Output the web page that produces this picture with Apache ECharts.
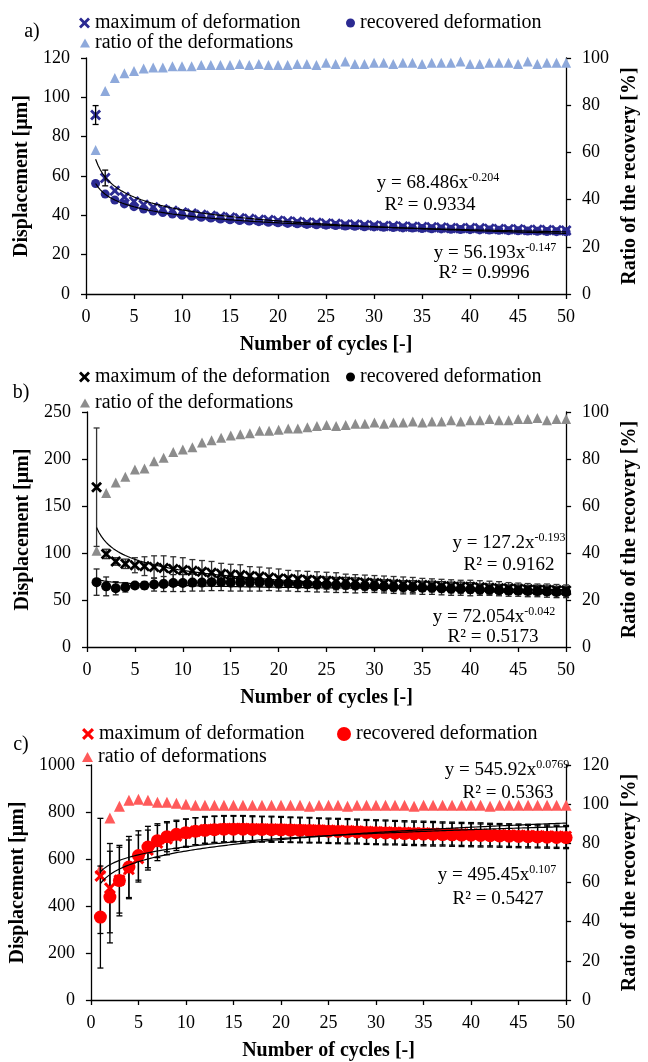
<!DOCTYPE html>
<html><head><meta charset="utf-8">
<script src="https://cdn.jsdelivr.net/npm/echarts@6/dist/echarts.min.js"></script>
<style>html,body{margin:0;padding:0;background:#fff}#c{width:648px;height:1062px}</style>
</head><body><div id="c"></div>
<script>
// ---------- data ----------
const cycles = [1,2,3,4,5,6,7,8,9,10,11,12,13,14,15,16,17,18,19,20,21,22,23,24,25,26,27,28,29,30,31,32,33,34,35,36,37,38,39,40,41,42,43,44,45,46,47,48,49,50];
const xTicks = [0,5,10,15,20,25,30,35,40,45,50];

// panel a
const aMax = [91.0,59.0,52.5,49.3,47.0,45.4,44.1,43.1,42.3,41.5, 40.9,40.3,39.8,39.3,38.9,38.5,38.2,37.8,37.6,37.3, 37.0,36.7,36.4,36.2,35.8,35.7,35.3,35.3,35.1,34.8, 34.6,34.6,34.3,34.2,34.1,33.9,33.8,33.6,33.4,33.5, 33.4,33.2,33.1,32.9,32.9,32.6,32.7,32.5,32.4,32.3];
const aMaxErr = [4.8,4.0,0,0,0,0,0,0,0,0, 0,0,0,0,0,0,0,0,0,0, 0,0,0,0,0,0,0,0,0,0, 0,0,0,0,0,0,0,0,0,0, 0,0,0,0,0,0,0,0,0,0];
const aRec = [56.2,50.8,47.8,45.8,44.4,43.2,42.2,41.4,40.7,40.0, 39.5,39.0,38.6,38.1,37.7,37.4,37.1,36.8,36.5,36.2, 35.9,35.7,35.4,35.2,35.0,34.8,34.6,34.4,34.2,34.1, 33.9,33.8,33.6,33.5,33.3,33.2,33.1,32.9,32.8,32.7, 32.6,32.5,32.4,32.2,32.1,32.0,31.9,31.8,31.7,31.6];
const aRatio = [61,86,91.5,93.5,94.5,95.5,96,96,96.5,96.5, 96.5,97,97,97,97,97.5,97,97.5,97,97, 97,97.5,97.5,97,98,97.5,98.5,97.5,97.5,98, 98,97.5,98,98,97.5,98,98,98,98.5,97.5, 97.5,98,98,98,97.5,98.5,97.5,98,98,98];
const aFitMax = [68.486, -0.204];
const aFitRec = [56.193, -0.147];
const aEqMax = ['y = 68.486x', '-0.204', 'R² = 0.9334'];
const aEqRec = ['y = 56.193x', '-0.147', 'R² = 0.9996'];
const aLeftTicks = [0,20,40,60,80,100,120];
const aRightTicks = [0,20,40,60,80,100];

// panel b
const bMax = [170,99,91,88.5,87,86,85,84,83,82, 81,80,79,78,77,76.5,75.5,75,74,73, 72.5,72,71.5,71,70.5,70,69.5,69,68.5,68, 67.5,67,66.5,66,66,65.5,65,64.5,64,64, 63.5,63,62.5,62.5,62,61.5,61,61,60.5,60];
const bMaxErr = [63,5,4,5,8,10,12,13,13,13, 12,12,12,11,11,11,10,10,10,10, 9,9,9,9,9,9,8,8,8,8, 8,8,8,8,7,7,7,7,7,7, 7,7,7,6,6,6,6,6,6,6];
const bRec = [69,64.5,62.5,63.5,65.5,65.5,66.5,67,68,68, 68.5,68.5,69,69,68.5,68.5,68.5,68.5,68,67.5, 67.5,67,67,66.5,66.5,66,66,65.5,65,65, 64.5,64,63.5,63.5,63,63,62.5,62,62,61.5, 61,61,60.5,60,60,59.5,59.5,59,58.5,58.5];
const bRecErr = [14,10,7,5,3,4,7,8,9,9, 9,9,9,9,9,9,9,9,8,8, 8,8,8,8,8,8,8,8,7,7, 7,7,7,7,7,7,7,7,7,7, 6,6,6,6,6,6,6,6,6,6];
const bRatio = [41,65.5,70,72.5,75.5,76,79,80.5,83,84, 85,87,88,89,90,90.5,91,92,92,92.5, 93,93,93.5,94,94.5,94,94.5,95,95,95.5, 95,95.5,95.5,96,95.5,96,96,96.5,96,96.5, 96.5,97,96.5,96.5,97,97,97.5,96.5,97,97];
const bFitMax = [127.2, -0.193];
const bFitRec = [72.054, -0.042];
const bEqMax = ['y = 127.2x', '-0.193', 'R² = 0.9162'];
const bEqRec = ['y = 72.054x', '-0.042', 'R² = 0.5173'];
const bLeftTicks = [0,50,100,150,200,250];
const bRightTicks = [0,20,40,60,80,100];

// panel c
const cMax = [528,476,510,556,602,638,668,686,698,710, 718,724,727,729,730,730,729,728,728,727, 726,725,724,723,722,721,720,719,717,716, 715,714,713,712,711,710,709,708,707,706, 705,704,703,702,701,700,699,698,697,696];
const cMaxErr = [245,190,140,125,100,85,75,68,62,60, 58,57,56,56,55,55,55,54,54,54, 53,53,53,52,52,52,52,51,51,51, 51,50,50,50,50,50,49,49,49,49, 49,48,48,48,48,48,48,47,47,47];
const cRec = [353,438,508,566,615,651,678,695,705,712, 718,722,725,727,727,727,726,726,725,724, 723,722,721,720,718,717,716,715,713,712, 711,710,708,707,706,705,704,703,702,701, 700,699,698,697,696,695,694,693,692,691];
const cRecErr = [217,195,150,130,105,88,72,64,60,58, 57,56,56,55,55,55,54,54,54,53, 53,53,53,52,52,52,52,51,51,51, 51,50,50,50,50,50,49,49,49,49, 49,48,48,48,48,48,47,47,47,47];
const cRatio = [67,93,99,102,102.5,102,101,101,100.5,100, 99.5,99.5,99.5,99.5,99.5,99.5,99.5,99.5,99.5,99.5, 99.5,99.5,99,99.5,99.5,99.5,99,99.5,99.5,99.5, 99.5,99.5,99.5,99,99.5,99.5,99.5,99.5,99.5,99.5, 99.5,99,99.5,99.5,99.5,99.5,99.5,99.5,99.5,99.5];
const cFitMax = [545.92, 0.0769];
const cFitRec = [495.45, 0.107];
const cEqMax = ['y = 545.92x', '0.0769', 'R² = 0.5363'];
const cEqRec = ['y = 495.45x', '0.107', 'R² = 0.5427'];
const cLeftTicks = [0,200,400,600,800,1000];
const cRightTicks = [0,20,40,60,80,100,120];

// ---------- helpers ----------
const FONT = '"Liberation Serif","Times New Roman",serif';
const XSYM = 'path://M0,1.8 L1.8,0 L5,3.2 L8.2,0 L10,1.8 L6.8,5 L10,8.2 L8.2,10 L5,6.8 L1.8,10 L0,8.2 L3.2,5 Z';
const pts = arr => cycles.map((x, i) => [x, arr[i]]);
const errPts = (arr, err) => cycles.map((x, i) => [x, arr[i], err[i]]);
const plainNum = v => String(v);
function trend(fit) {
  const out = [];
  for (let x = 1; x <= 50.0001; x += 0.25) out.push([x, fit[0] * Math.pow(x, fit[1])]);
  return out;
}
function errRender(color) {
  return function (params, api) {
    const x = api.value(0), y = api.value(1), e = api.value(2);
    if (!(e > 0)) return {type: 'group', children: []};
    const p1 = api.coord([x, y + e]), p2 = api.coord([x, y - e]);
    const st = {stroke: color, lineWidth: 1.3};
    const h = 3;
    return {type: 'group', children: [
      {type: 'line', shape: {x1: p1[0], y1: p1[1], x2: p2[0], y2: p2[1]}, style: st},
      {type: 'line', shape: {x1: p1[0] - h, y1: p1[1], x2: p1[0] + h, y2: p1[1]}, style: st},
      {type: 'line', shape: {x1: p2[0] - h, y1: p2[1], x2: p2[0] + h, y2: p2[1]}, style: st}
    ]};
  };
}
const axisLineStyle = {color: '#000', width: 1.3};
function xAx(gi) {
  return {gridIndex: gi, type: 'value', min: xTicks[0], max: xTicks[xTicks.length - 1], interval: xTicks[1] - xTicks[0],
    name: 'Number of cycles [-]', nameLocation: 'middle', nameGap: 41,
    nameTextStyle: {fontFamily: FONT, fontSize: 20, fontWeight: 'bold', color: '#000'},
    axisLine: {show: true, onZero: false, lineStyle: axisLineStyle},
    axisTick: {show: true, length: 5, lineStyle: axisLineStyle},
    axisLabel: {fontFamily: FONT, fontSize: 18, color: '#000', margin: 14, formatter: plainNum},
    splitLine: {show: false}};
}
function yLeft(gi, ticks) {
  return {gridIndex: gi, type: 'value', position: 'left', min: ticks[0], max: ticks[ticks.length - 1], interval: ticks[1] - ticks[0],
    name: 'Displacement [μm]', nameLocation: 'middle', nameRotate: 90, nameGap: 54,
    nameTextStyle: {fontFamily: FONT, fontSize: 20, fontWeight: 'bold', color: '#000'},
    axisLine: {show: true, onZero: false, lineStyle: axisLineStyle},
    axisTick: {show: true, length: 5, lineStyle: axisLineStyle},
    axisLabel: {fontFamily: FONT, fontSize: 18, color: '#000', margin: 16, formatter: plainNum},
    splitLine: {show: false}};
}
function yRight(gi, ticks) {
  return {gridIndex: gi, type: 'value', position: 'right', min: ticks[0], max: ticks[ticks.length - 1], interval: ticks[1] - ticks[0],
    name: 'Ratio of the recovery [%]', nameLocation: 'middle', nameRotate: 90, nameGap: 44,
    nameTextStyle: {fontFamily: FONT, fontSize: 20, fontWeight: 'bold', color: '#000'},
    axisLine: {show: true, onZero: false, lineStyle: axisLineStyle},
    axisTick: {show: true, length: 5, lineStyle: axisLineStyle},
    axisLabel: {fontFamily: FONT, fontSize: 18, color: '#000', margin: 16, formatter: plainNum},
    splitLine: {show: false}};
}
const strip = n => n.replace(/ \[[abc]\]$/, '');
function leg(name, left, top, w, h) {
  return {data: [name], left: left, top: top, padding: 0, itemWidth: w, itemHeight: h, itemGap: 0,
    selectedMode: false, formatter: strip,
    textStyle: {fontFamily: FONT, fontSize: 20, color: '#000'}};
}
function eqText(cx, cy, base, sup) {
  return {type: 'text', x: cx, y: cy, z: 100,
    style: {text: '{b|' + base + '}{s|' + sup + '}',
      rich: {b: {fontFamily: FONT, fontSize: 19, fill: '#000', color: '#000', lineHeight: 22},
             s: {fontFamily: FONT, fontSize: 12, fill: '#000', color: '#000', verticalAlign: 'top'}},
      align: 'center', verticalAlign: 'middle', textAlign: 'center', textVerticalAlign: 'middle'}};
}
function plainText(cx, cy, txt, size) {
  return {type: 'text', x: cx, y: cy, z: 100,
    style: {text: txt, font: size + 'px ' + FONT, fill: '#000',
      align: 'center', verticalAlign: 'middle', textAlign: 'center', textVerticalAlign: 'middle'}};
}
function scat(name, xi, yi, data, sym, size, color, z) {
  return {name: name, type: 'scatter', xAxisIndex: xi, yAxisIndex: yi, data: data, symbol: sym, symbolSize: size,
    itemStyle: {color: color, opacity: 1}, z: z, silent: true};
}
function errS(xi, yi, arr, err, color, z) {
  return {type: 'custom', xAxisIndex: xi, yAxisIndex: yi, data: errPts(arr, err), renderItem: errRender(color),
    encode: {x: 0, y: 1}, z: z, silent: true};
}
function trendS(xi, yi, fit) {
  return {type: 'line', xAxisIndex: xi, yAxisIndex: yi, data: trend(fit), showSymbol: false, symbol: 'none',
    lineStyle: {color: '#000', width: 1.2}, z: 20, silent: true};
}

// colours
const aBlue = '#2B2A92', aLight = '#8EA9DB';
const bBlack = '#000', bGrey = '#8C8C8C';
const cRed = '#FF0000', cLight = '#FF5A5A';

const chart = echarts.init(document.getElementById('c'), null, {renderer: 'canvas', width: 648, height: 1062});
chart.setOption({
  animation: false,
  backgroundColor: '#fff',
  grid: [
    {left: 86, top: 58, width: 500, height: 236},
    {left: 87, top: 412, width: 500, height: 235},
    {left: 90, top: 765, width: 498, height: 235}
  ],
  xAxis: [xAx(0), xAx(1), xAx(2)],
  yAxis: [yLeft(0, aLeftTicks), yRight(0, aRightTicks), yLeft(1, bLeftTicks), yRight(1, bRightTicks), yLeft(2, cLeftTicks), yRight(2, cRightTicks)],
  legend: [
    leg('maximum of deformation [a]', 79, 13, 11, 11),
    leg('recovered deformation [a]', 346, 13, 9, 9),
    leg('ratio of the deformations [a]', 80, 33, 10, 9),
    leg('maximum of the deformation [b]', 79, 367, 11, 11),
    leg('recovered deformation [b]', 346, 367, 9, 9),
    leg('ratio of the deformations [b]', 80, 393, 10, 9),
    leg('maximum of deformation [c]', 82, 724, 12, 12),
    leg('recovered deformation [c]', 337, 724, 14, 14),
    leg('ratio of deformations [c]', 82, 747, 11, 10)
  ],
  series: [
    // panel a
    scat('ratio of the deformations [a]', 0, 1, pts(aRatio), 'triangle', 10, aLight, 3),
    scat('recovered deformation [a]', 0, 0, pts(aRec), 'circle', 9, aBlue, 4),
    scat('maximum of deformation [a]', 0, 0, pts(aMax), XSYM, 11, aBlue, 5),
    errS(0, 0, aMax, aMaxErr, '#000', 6),
    trendS(0, 0, aFitMax), trendS(0, 0, aFitRec),
    // panel b
    scat('ratio of the deformations [b]', 1, 3, pts(bRatio), 'triangle', 10, bGrey, 3),
    errS(1, 2, bRec, bRecErr, '#222', 4),
    errS(1, 2, bMax, bMaxErr, '#333', 4),
    scat('recovered deformation [b]', 1, 2, pts(bRec), 'circle', 10, bBlack, 5),
    scat('maximum of the deformation [b]', 1, 2, pts(bMax), XSYM, 11, bBlack, 6),
    trendS(1, 2, bFitMax), trendS(1, 2, bFitRec),
    // panel c
    scat('ratio of deformations [c]', 2, 5, pts(cRatio), 'triangle', 11, cLight, 3),
    errS(2, 4, cRec, cRecErr, '#000', 4),
    errS(2, 4, cMax, cMaxErr, '#000', 4),
    scat('recovered deformation [c]', 2, 4, pts(cRec), 'circle', 13, cRed, 5),
    scat('maximum of deformation [c]', 2, 4, pts(cMax), XSYM, 12, cRed, 6),
    trendS(2, 4, cFitMax), trendS(2, 4, cFitRec)
  ],
  graphic: [
    plainText(32, 32, 'a)', 20),
    plainText(21, 393, 'b)', 20),
    plainText(21, 745, 'c)', 20),
    eqText(438, 183, aEqMax[0], aEqMax[1]), plainText(430, 205, aEqMax[2], 19),
    eqText(495, 253, aEqRec[0], aEqRec[1]), plainText(484, 273, aEqRec[2], 19),
    eqText(509, 543, bEqMax[0], bEqMax[1]), plainText(509, 565, bEqMax[2], 19),
    eqText(494, 617, bEqRec[0], bEqRec[1]), plainText(493, 637, bEqRec[2], 19),
    eqText(507, 770, cEqMax[0], cEqMax[1]), plainText(508, 793, cEqMax[2], 19),
    eqText(497, 875, cEqRec[0], cEqRec[1]), plainText(498, 899, cEqRec[2], 19)
  ]
});
</script>
</body></html>
